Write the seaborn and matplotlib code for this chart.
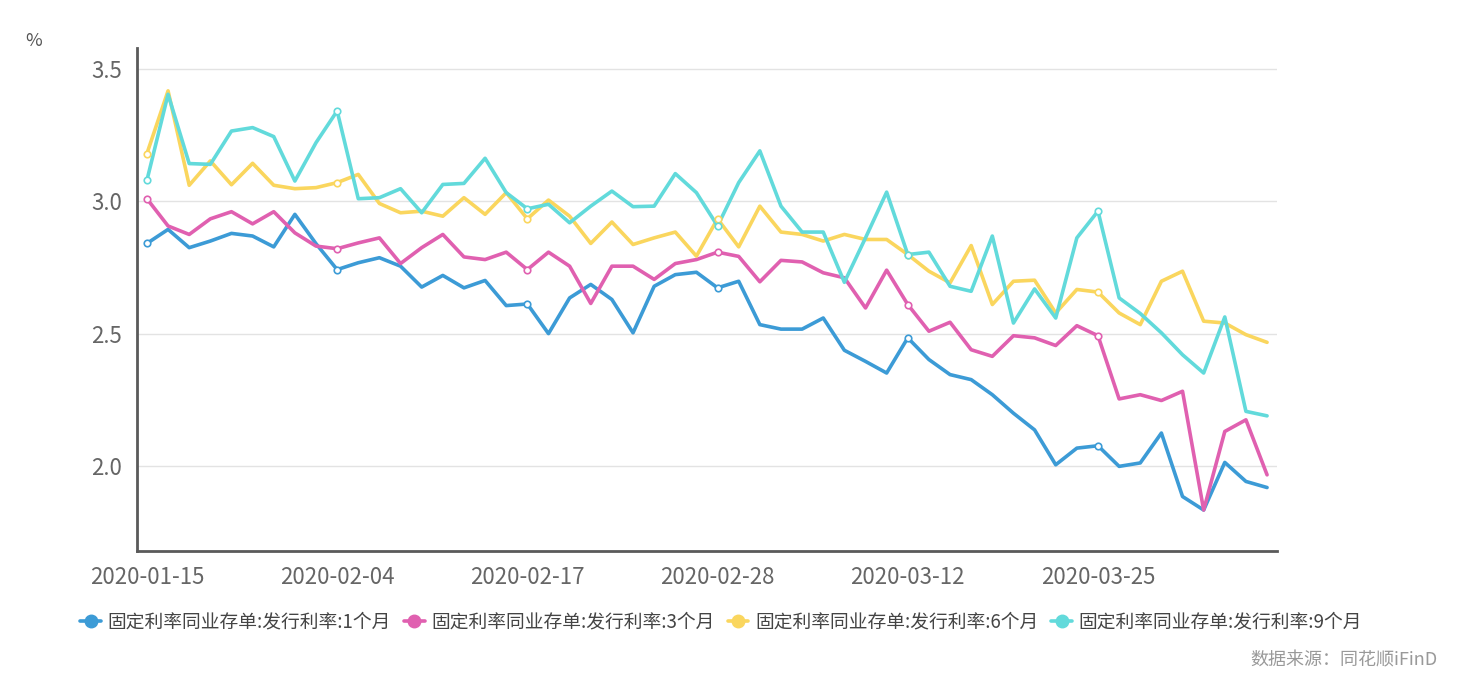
import matplotlib
matplotlib.use("Agg")
import matplotlib.pyplot as plt
from matplotlib.lines import Line2D
import seaborn as sns
import pandas as pd
import numpy as np

dates = ["2020-01-15", "2020-01-16", "2020-01-17", "2020-01-19", "2020-01-20", "2020-01-21",
         "2020-01-22", "2020-01-23", "2020-02-03", "2020-02-04", "2020-02-05", "2020-02-06",
         "2020-02-07", "2020-02-10", "2020-02-11", "2020-02-12", "2020-02-13", "2020-02-14",
         "2020-02-17", "2020-02-18", "2020-02-19", "2020-02-20", "2020-02-21", "2020-02-24",
         "2020-02-25", "2020-02-26", "2020-02-27", "2020-02-28", "2020-03-02", "2020-03-03",
         "2020-03-04", "2020-03-05", "2020-03-06", "2020-03-09", "2020-03-10", "2020-03-11",
         "2020-03-12", "2020-03-13", "2020-03-16", "2020-03-17", "2020-03-18", "2020-03-19",
         "2020-03-20", "2020-03-23", "2020-03-24", "2020-03-25", "2020-03-26", "2020-03-27",
         "2020-03-30", "2020-03-31", "2020-04-01", "2020-04-02", "2020-04-03", "2020-04-07"]

rate_1m = [2.841, 2.894, 2.825, 2.850, 2.879, 2.869, 2.828, 2.951, 2.840,
           2.742, 2.768, 2.787, 2.755, 2.676, 2.720, 2.673, 2.701, 2.606,
           2.612, 2.500, 2.635, 2.686, 2.629, 2.503, 2.679, 2.723, 2.732,
           2.673, 2.698, 2.534, 2.517, 2.517, 2.559, 2.437, 2.395, 2.351,
           2.484, 2.402, 2.345, 2.326, 2.269, 2.199, 2.136, 2.004, 2.067,
           2.076, 1.998, 2.011, 2.124, 1.884, 1.833, 2.013, 1.941, 1.918]

rate_3m = [3.010, 2.907, 2.875, 2.934, 2.961, 2.915, 2.961, 2.881, 2.831,
           2.821, 2.843, 2.862, 2.765, 2.825, 2.875, 2.790, 2.780, 2.808,
           2.742, 2.808, 2.755, 2.614, 2.755, 2.755, 2.705, 2.765, 2.780,
           2.808, 2.792, 2.696, 2.777, 2.771, 2.730, 2.711, 2.597, 2.740,
           2.610, 2.509, 2.543, 2.439, 2.414, 2.492, 2.484, 2.455, 2.530,
           2.492, 2.253, 2.269, 2.247, 2.282, 1.833, 2.130, 2.174, 1.966]

rate_6m = [3.181, 3.418, 3.061, 3.153, 3.063, 3.144, 3.061, 3.048, 3.052,
           3.071, 3.102, 2.992, 2.957, 2.963, 2.944, 3.014, 2.951, 3.033,
           2.934, 3.005, 2.944, 2.841, 2.922, 2.837, 2.862, 2.884, 2.793,
           2.934, 2.828, 2.982, 2.884, 2.875, 2.850, 2.875, 2.856, 2.856,
           2.799, 2.736, 2.692, 2.833, 2.610, 2.698, 2.702, 2.578, 2.667,
           2.657, 2.578, 2.534, 2.698, 2.736, 2.547, 2.540, 2.496, 2.467]

rate_9m = [3.080, 3.405, 3.143, 3.140, 3.266, 3.279, 3.245, 3.077, 3.222,
           3.342, 3.010, 3.014, 3.048, 2.957, 3.064, 3.068, 3.163, 3.033,
           2.972, 2.989, 2.919, 2.982, 3.039, 2.980, 2.982, 3.105, 3.033,
           2.907, 3.071, 3.191, 2.982, 2.884, 2.884, 2.694, 2.862, 3.035,
           2.799, 2.808, 2.679, 2.660, 2.869, 2.540, 2.669, 2.559, 2.862,
           2.963, 2.635, 2.576, 2.503, 2.420, 2.351, 2.563, 2.206, 2.189]

series_names = ["固定利率同业存单:发行利率:1个月", "固定利率同业存单:发行利率:3个月",
                "固定利率同业存单:发行利率:6个月", "固定利率同业存单:发行利率:9个月"]
colors = ["#3C9BD6", "#E060B0", "#FAD65E", "#62DADB"]

y_ticks = [2.0, 2.5, 3.0, 3.5]
tick_step = 9

sns.set_theme(style="white")
plt.rcParams['font.family'] = ['Noto Sans CJK SC', 'DejaVu Sans']

idx = np.arange(len(dates))
frames = []
for name, vals in zip(series_names, [rate_1m, rate_3m, rate_6m, rate_9m]):
    frames.append(pd.DataFrame({"i": idx, "date": dates, "value": vals, "series": name}))
df = pd.concat(frames, ignore_index=True)

fig = plt.figure(figsize=(14.57, 6.83), dpi=100)
ax = fig.add_axes([137/1457, 1-551/683, (1277-137)/1457, (551-48)/683])

for y in y_ticks:
    ax.axhline(y, color="#e3e3e3", lw=1.0, zorder=0)

sns.lineplot(data=df, x="i", y="value", hue="series", palette=colors,
             hue_order=series_names, lw=2.6, ax=ax, legend=False, zorder=3)

mk = df[df["i"] % tick_step == 0]
for name, c in zip(series_names, colors):
    sub = mk[mk["series"] == name]
    ax.scatter(sub["i"], sub["value"], s=22, facecolor="white", edgecolor=c,
               linewidth=1.2, zorder=5)

ax.set_xlim(-0.47, len(dates) - 1 + 0.47)
ax.set_ylim(1.678, 3.58)
ax.set_yticks(y_ticks)
ax.set_yticklabels([f"{v:.1f}" for v in y_ticks])
ax.set_xticks(idx[::tick_step])
ax.set_xticklabels([dates[k] for k in idx[::tick_step]])
ax.set_xlabel("")
ax.set_ylabel("")
ax.tick_params(axis="both", length=0, labelsize=16, labelcolor="#666666")
ax.tick_params(axis="x", pad=11)
ax.tick_params(axis="y", pad=11)

for s in ["top", "right"]:
    ax.spines[s].set_visible(False)
for s in ["left", "bottom"]:
    ax.spines[s].set_color("#5a5a5a")
    ax.spines[s].set_linewidth(2.0)

fig.text(25/1457, 1-41/683, "%", fontsize=13, color="#555555", va="center")

handles = [Line2D([0], [0], color=c, lw=2.6, marker="o", markersize=9,
                  markerfacecolor=c, markeredgecolor=c) for c in colors]
fig.legend(handles, series_names, loc="center", bbox_to_anchor=(0.495, 1-622/683),
           ncol=4, frameon=False, fontsize=13.5, handlelength=1.1,
           columnspacing=0.7, handletextpad=0.35, labelcolor="#444444")

fig.text(1438/1457, 1-660/683, "数据来源：同花顺iFinD", fontsize=13, color="#999999",
         ha="right", va="center")

fig.savefig("out.png", dpi=100, facecolor="white")
